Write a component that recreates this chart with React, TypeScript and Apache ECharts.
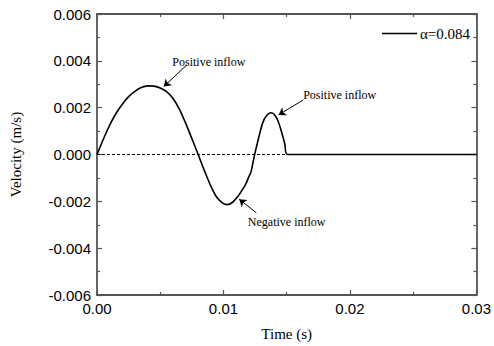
import React, { useEffect, useRef } from "react";
import * as echarts from "echarts";

// time in seconds, velocity in m/s
const timeS: number[] = [
  0, 0.0005, 0.001, 0.0015, 0.002, 0.0025, 0.003, 0.0035, 0.004, 0.0045,
  0.005, 0.0055, 0.006, 0.0065, 0.007, 0.0075, 0.008, 0.0085, 0.009, 0.0095,
  0.01, 0.0103, 0.0107, 0.0111, 0.0115, 0.0118, 0.012, 0.0121, 0.0122,
  0.01235, 0.0125, 0.0128, 0.0131, 0.0134, 0.01375, 0.014, 0.0143, 0.0146,
  0.01485, 0.01505, 0.03,
];
const velocity: number[] = [
  0, 0.00065, 0.00125, 0.00175, 0.00215, 0.00247, 0.0027, 0.00286, 0.00293,
  0.00292, 0.00284, 0.00268, 0.0024, 0.00195, 0.00135, 0.00068, 0.0, -0.0007,
  -0.00135, -0.00185, -0.0021, -0.00214, -0.00205, -0.00182, -0.0015,
  -0.00122, -0.00095, -0.00085, -0.0007, -0.0003, 0.00008, 0.00075, 0.00135,
  0.00165, 0.00178, 0.00172, 0.00145, 0.00095, 0.00045, 0.0, 0,
];
const zeroLineT: number[] = [0, 0.03];
const seriesName = "α=0.084";

const annotLabels: string[] = ["Positive inflow", "Positive inflow", "Negative inflow"];
const annotTextPos: [number, number][] = [
  [0.00884, 0.00396],
  [0.01919, 0.00254],
  [0.015, -0.00287],
];
const annotArrowFrom: [number, number][] = [
  [0.00709, 0.00382],
  [0.01631, 0.00233],
  [0.0126, -0.00249],
];
const annotArrowTo: [number, number][] = [
  [0.00528, 0.0029],
  [0.01436, 0.00169],
  [0.01124, -0.00191],
];

const SERIF = "Liberation Serif";
const SANS = "Liberation Sans";
const AXIS_COLOR = "#555";

export default function App() {
  const ref = useRef<HTMLDivElement>(null);
  useEffect(() => {
    if (!ref.current) return;
    const chart = echarts.init(ref.current, undefined, { renderer: "svg" });
    const axisCommon = {
      axisLine: { show: true, onZero: false, lineStyle: { color: AXIS_COLOR, width: 1.8 } },
      axisTick: { show: true, inside: true, length: 5, lineStyle: { color: AXIS_COLOR, width: 1.2 } },
      minorTick: { show: true, splitNumber: 2, length: 3, lineStyle: { color: AXIS_COLOR, width: 1.2 } },
      splitLine: { show: false },
    };
    const annLabelStyle = {
      show: true,
      position: "inside",
      fontFamily: SERIF,
      fontSize: 12,
      color: "#000",
    };
    chart.setOption({
      animation: false,
      backgroundColor: "#fff",
      grid: { left: 94, top: 14, right: 15, bottom: 51, containLabel: false },
      legend: {
        data: [{ name: seriesName, icon: "rect" }],
        left: 377,
        top: 21,
        itemWidth: 35,
        itemHeight: 1.6,
        itemGap: 4,
        itemStyle: { color: "#000" },
        textStyle: { fontFamily: SERIF, fontSize: 15, color: "#000", padding: [0, 0, 0, -2] },
      },
      xAxis: [
        {
          type: "value",
          min: 0,
          max: 0.03,
          interval: 0.01,
          position: "bottom",
          ...axisCommon,
          axisLabel: {
            fontFamily: SANS,
            fontSize: 15,
            color: "#000",
            margin: 6,
            formatter: (v: number) => v.toFixed(2),
          },
          name: "Time (s)",
          nameLocation: "middle",
          nameGap: 31,
          nameTextStyle: { fontFamily: SERIF, fontSize: 15, color: "#000" },
        },
        {
          type: "value",
          min: 0,
          max: 0.03,
          interval: 0.01,
          position: "top",
          ...axisCommon,
          axisLabel: { show: false },
        },
      ],
      yAxis: [
        {
          type: "value",
          min: -0.006,
          max: 0.006,
          interval: 0.002,
          position: "left",
          ...axisCommon,
          axisLabel: {
            fontFamily: SANS,
            fontSize: 15,
            color: "#000",
            margin: 6,
            formatter: (v: number) => v.toFixed(3),
          },
          name: "Velocity (m/s)",
          nameLocation: "middle",
          nameGap: 74,
          nameRotate: 90,
          nameTextStyle: { fontFamily: SERIF, fontSize: 15, color: "#000" },
        },
        {
          type: "value",
          min: -0.006,
          max: 0.006,
          interval: 0.002,
          position: "right",
          ...axisCommon,
          axisLabel: { show: false },
        },
      ],
      series: [
        {
          name: "zero",
          type: "line",
          data: zeroLineT.map((t) => [t, 0]),
          symbol: "none",
          silent: true,
          lineStyle: { color: "#000", width: 1, type: [3, 2] },
          z: 1,
        },
        {
          name: seriesName,
          type: "line",
          data: timeS.map((t, i) => [t, velocity[i]]),
          symbol: "none",
          smooth: 0.25,
          color: "#000",
          lineStyle: { color: "#000", width: 1.6 },
          z: 3,
          markLine: {
            silent: true,
            symbol: ["none", "arrow"],
            symbolSize: 7,
            label: { show: false },
            lineStyle: { color: "#000", width: 1, type: "solid" },
            data: annotArrowFrom.map((f, i) => [
              { coord: f },
              { coord: annotArrowTo[i] },
            ]),
          },
          markPoint: {
            silent: true,
            symbol: "circle",
            symbolSize: 0,
            label: annLabelStyle,
            data: annotTextPos.map((p, i) => ({
              coord: p,
              value: annotLabels[i],
              label: { ...annLabelStyle, formatter: annotLabels[i] },
            })),
          },
        },
      ],
    });
    return () => chart.dispose();
  }, []);
  return (
    <div
      ref={ref}
      style={{ position: "absolute", left: 0, top: 0, width: 494, height: 346 }}
    />
  );
}
